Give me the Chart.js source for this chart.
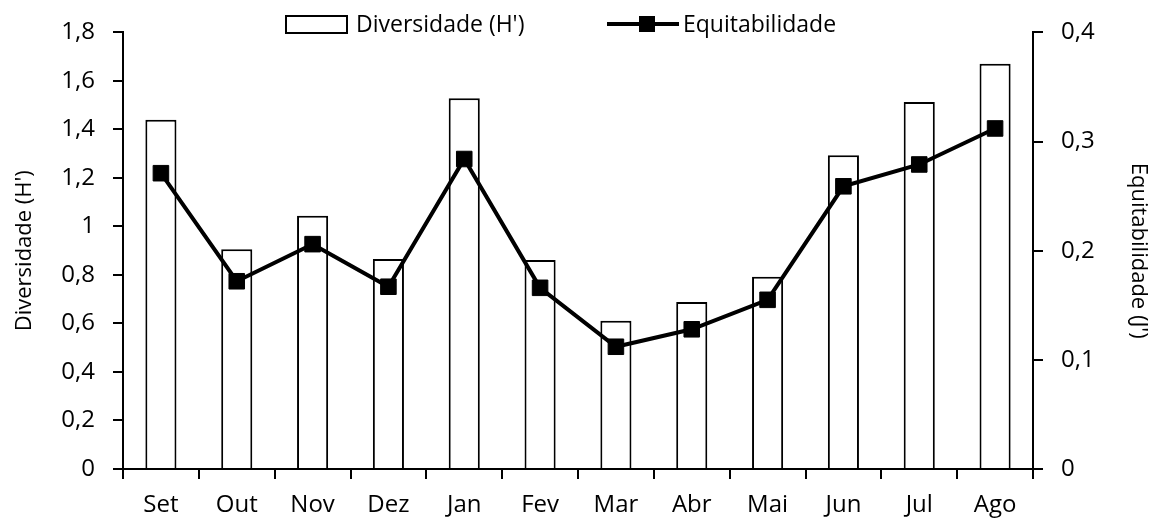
<html>
<head>
<script src="https://cdn.jsdelivr.net/npm/chart.js@4/dist/chart.umd.min.js"></script>
<style>
  body { margin: 0; background: #fff; }
  #wrap { width: 1155px; height: 525px; }
</style>
</head>
<body>
<div id="wrap"><canvas id="grafico"></canvas></div>
<script>
// dados
const meses = ['Set', 'Out', 'Nov', 'Dez', 'Jan', 'Fev', 'Mar', 'Abr', 'Mai', 'Jun', 'Jul', 'Ago'];
const diversidade = [1.44, 0.906, 1.044, 0.866, 1.529, 0.862, 0.611, 0.688, 0.793, 1.294, 1.513, 1.671];
const equitabilidade = [0.271, 0.172, 0.206, 0.167, 0.284, 0.166, 0.112, 0.128, 0.155, 0.259, 0.279, 0.312];
const ticksEsq = ['0', '0,2', '0,4', '0,6', '0,8', '1', '1,2', '1,4', '1,6', '1,8'];
const ticksDir = ['0', '0,1', '0,2', '0,3', '0,4'];

const fonte = '"Open Sans"';
const preto = '#000';

// legenda desenhada a mao (fica sobre a area do grafico, como no original)
const legendaPlugin = {
  id: 'legendaManual',
  afterDraw(chart) {
    const ctx = chart.ctx;
    const ds = chart.data.datasets;
    ctx.save();
    ctx.font = '23px ' + fonte;
    ctx.textBaseline = 'middle';
    // barra
    ctx.fillStyle = '#fff';
    ctx.fillRect(286, 16, 61, 17);
    ctx.strokeStyle = preto;
    ctx.lineWidth = 2;
    ctx.strokeRect(286, 16, 61, 17);
    ctx.fillStyle = preto;
    ctx.fillText(ds[1].label, 356, 25);
    // linha
    ctx.lineWidth = 4;
    ctx.beginPath();
    ctx.moveTo(607, 24);
    ctx.lineTo(679, 24);
    ctx.stroke();
    ctx.fillRect(639, 16, 16, 16);
    ctx.fillText(ds[0].label, 683, 25);
    ctx.restore();
  }
};

const ctx = document.getElementById('grafico').getContext('2d');
const grafico = new Chart(ctx, {
  type: 'bar',
  data: {
    labels: meses,
    datasets: [{
      type: 'line',
      label: 'Equitabilidade',
      data: equitabilidade,
      yAxisID: 'yDir',
      borderColor: preto,
      backgroundColor: preto,
      borderWidth: 4,
      pointStyle: 'rect',
      pointRadius: 11,
      pointBorderWidth: 1,
      tension: 0,
      order: 0
    }, {
      type: 'bar',
      label: "Diversidade (H')",
      data: diversidade,
      yAxisID: 'yEsq',
      backgroundColor: '#fff',
      borderColor: preto,
      borderWidth: 2,
      barPercentage: 0.41,
      categoryPercentage: 1,
      order: 1
    }]
  },
  options: {
    responsive: true,
    maintainAspectRatio: false,
    animation: false,
    layout: { padding: { top: 25, left: 0, right: 0, bottom: 0 } },
    plugins: {
      legend: { display: false },
      tooltip: { enabled: false }
    },
    scales: {
      x: {
        afterFit(s) { s.height = 56; },
        border: { color: preto, width: 2 },
        grid: { drawOnChartArea: false, drawTicks: true, tickLength: 10, color: preto, lineWidth: 2, offset: true },
        ticks: { color: preto, font: { family: fonte, size: 24 }, padding: 12, maxRotation: 0 }
      },
      yEsq: {
        position: 'left',
        min: 0,
        max: 1.8,
        afterFit(s) { s.width = 123; },
        border: { color: preto, width: 2 },
        grid: { drawOnChartArea: false, drawTicks: true, tickLength: 10, color: preto, lineWidth: 2 },
        ticks: {
          stepSize: 0.2,
          color: preto,
          font: { family: fonte, size: 24 },
          padding: 18,
          callback: (v, i) => ticksEsq[i]
        },
        title: { display: true, text: "Diversidade (H')", color: preto, font: { family: fonte, size: 22 }, padding: { top: 12, bottom: 0 } }
      },
      yDir: {
        position: 'right',
        min: 0,
        max: 0.4,
        afterFit(s) { s.width = 122; },
        border: { color: preto, width: 2 },
        grid: { drawOnChartArea: false, drawTicks: true, tickLength: 10, color: preto, lineWidth: 2 },
        ticks: {
          stepSize: 0.1,
          color: preto,
          font: { family: fonte, size: 24 },
          padding: 18,
          callback: (v, i) => ticksDir[i]
        },
        title: { display: true, text: "Equitabilidade (J')", color: preto, font: { family: fonte, size: 22 }, padding: { top: 4, bottom: 0 } }
      }
    }
  },
  plugins: [legendaPlugin]
});
</script>
</body>
</html>
